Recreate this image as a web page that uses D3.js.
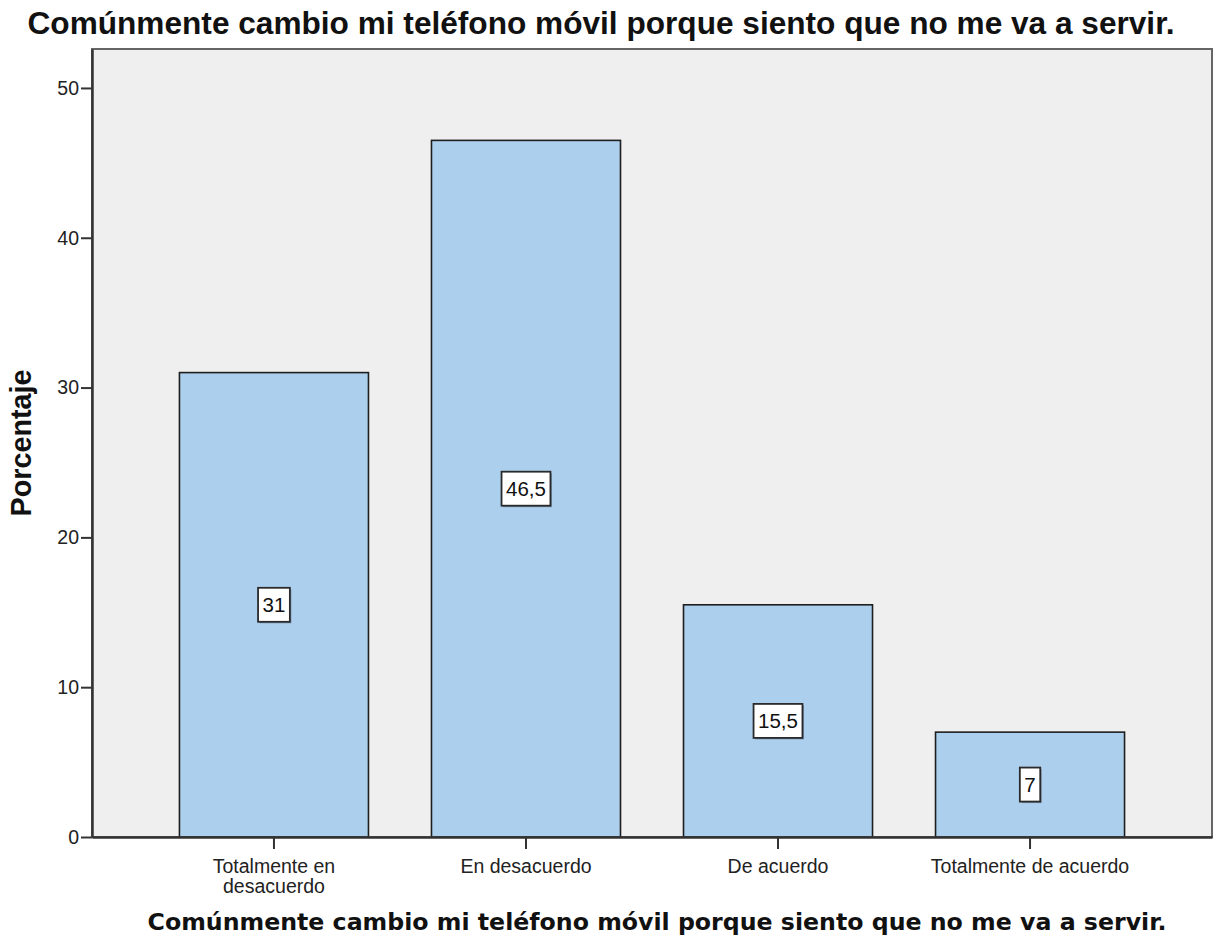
<!DOCTYPE html>
<html>
<head>
<meta charset="utf-8">
<script src="https://cdn.jsdelivr.net/npm/d3@7"></script>
<style>
  html, body { margin: 0; padding: 0; background: #ffffff; }
  svg { display: block; }
</style>
</head>
<body>
<svg id="chart" width="1217" height="949"></svg>
<script>
// Survey answers and their percentages
const categories = [
  ["Totalmente en", "desacuerdo"],
  ["En desacuerdo"],
  ["De acuerdo"],
  ["Totalmente de acuerdo"]
];
const percentages = [31, 46.5, 15.5, 7];
const yTicks = [0, 10, 20, 30, 40, 50];
const chartTitle = "Comúnmente cambio mi teléfono móvil porque siento que no me va a servir.";
const xTitle = "Comúnmente cambio mi teléfono móvil porque siento que no me va a servir.";
const yTitle = "Porcentaje";

const svg = d3.select("#chart");
const plot = { left: 92, right: 1212, top: 49, bottom: 837 };

const keys = categories.map((c, i) => i);
const x = d3.scaleBand()
  .domain(keys)
  .range([plot.left, plot.right])
  .paddingInner(0.25)
  .paddingOuter(0.347);
const y = d3.scaleLinear()
  .domain([0, 52.6])
  .range([plot.bottom, plot.top]);

// shrink or grow a text element's font so it spans the given width
function fitWidth(sel, width) {
  const node = sel.node();
  const size = parseFloat(sel.attr("font-size"));
  const w = node.getComputedTextLength();
  sel.attr("font-size", (size * width / w).toFixed(2));
}

// plot background
svg.append("rect")
  .attr("x", plot.left).attr("y", plot.top)
  .attr("width", plot.right - plot.left)
  .attr("height", plot.bottom - plot.top)
  .attr("fill", "#efefef")
  .attr("stroke", "#666")
  .attr("stroke-width", 2);

// bars
svg.append("g").selectAll("rect")
  .data(percentages)
  .join("rect")
  .attr("x", (d, i) => x(i))
  .attr("y", d => y(d))
  .attr("width", x.bandwidth())
  .attr("height", d => y(0) - y(d))
  .attr("fill", "#accfee")
  .attr("stroke", "#1e1e1e")
  .attr("stroke-width", 1.6);

// y axis
const yAxis = svg.append("g")
  .attr("transform", `translate(${plot.left},0)`)
  .call(d3.axisLeft(y).tickValues(yTicks).tickSizeInner(11).tickSizeOuter(0)
    .tickPadding(2).tickFormat(d3.format("d")));
yAxis.select(".domain").attr("stroke", "#333").attr("stroke-width", 2.5);
yAxis.selectAll(".tick line").attr("stroke", "#333").attr("stroke-width", 2);
yAxis.selectAll(".tick text")
  .attr("font-family", "'Liberation Sans', Arial, sans-serif")
  .attr("font-size", 19.5)
  .attr("fill", "#222");

// x axis
const xAxis = svg.append("g")
  .attr("transform", `translate(0,${plot.bottom})`)
  .call(d3.axisBottom(x).tickSizeInner(12).tickSizeOuter(0).tickFormat(""));
xAxis.select(".domain").attr("stroke", "#333").attr("stroke-width", 2.5);
xAxis.selectAll(".tick line").attr("stroke", "#333").attr("stroke-width", 2);

// category labels, one or two lines each
const catLabels = svg.append("g").selectAll("text")
  .data(categories)
  .join("text")
  .attr("x", (d, i) => x(i) + x.bandwidth() / 2)
  .attr("y", plot.bottom + 36)
  .attr("text-anchor", "middle")
  .attr("font-family", "'Liberation Sans', Arial, sans-serif")
  .attr("font-size", 19.5)
  .attr("fill", "#222");
catLabels.selectAll("tspan")
  .data(d => d)
  .join("tspan")
  .attr("x", function () { return d3.select(this.parentNode).attr("x"); })
  .attr("dy", (d, i) => i === 0 ? 0 : 20)
  .text(d => d);

// value labels in white boxes at each bar's mid-height
const fmt = v => String(v).replace(".", ",");
const valueGroups = svg.append("g").selectAll("g")
  .data(percentages)
  .join("g")
  .attr("transform", (d, i) => `translate(${x(i) + x.bandwidth() / 2},${y(d / 2)})`);
valueGroups.append("text")
  .attr("text-anchor", "middle")
  .attr("dy", "0.36em")
  .attr("font-family", "'Liberation Sans', Arial, sans-serif")
  .attr("font-size", 20.5)
  .attr("fill", "#111")
  .text(d => fmt(d));
valueGroups.each(function () {
  const g = d3.select(this);
  const t = g.select("text");
  const w = t.node().getComputedTextLength() + 9;
  const h = 34;
  g.insert("rect", "text")
    .attr("x", -w / 2 + 1.5).attr("y", -h / 2 + 1.5)
    .attr("width", w).attr("height", h)
    .attr("fill", "#4a5d70").attr("opacity", 0.5);
  g.insert("rect", "text")
    .attr("x", -w / 2).attr("y", -h / 2)
    .attr("width", w).attr("height", h)
    .attr("fill", "#ffffff")
    .attr("stroke", "#2a2a2a")
    .attr("stroke-width", 1.8);
});

// chart title
const title = svg.append("text")
  .attr("x", 601).attr("y", 34)
  .attr("text-anchor", "middle")
  .attr("font-family", "'Liberation Sans', Arial, sans-serif")
  .attr("font-weight", "bold")
  .attr("font-size", 27)
  .attr("fill", "#111")
  .text(chartTitle);
fitWidth(title, 1147);

// x axis title
const xt = svg.append("text")
  .attr("x", 657).attr("y", 930)
  .attr("text-anchor", "middle")
  .attr("font-family", "'DejaVu Sans', Verdana, sans-serif")
  .attr("font-weight", "bold")
  .attr("font-size", 20)
  .attr("fill", "#111")
  .text(xTitle);
fitWidth(xt, 1019);

// y axis title
const yt = svg.append("text")
  .attr("transform", `translate(31,443) rotate(-90)`)
  .attr("text-anchor", "middle")
  .attr("font-family", "'Liberation Sans', Arial, sans-serif")
  .attr("font-weight", "bold")
  .attr("font-size", 27)
  .attr("fill", "#111")
  .text(yTitle);
fitWidth(yt, 147);
</script>
</body>
</html>
